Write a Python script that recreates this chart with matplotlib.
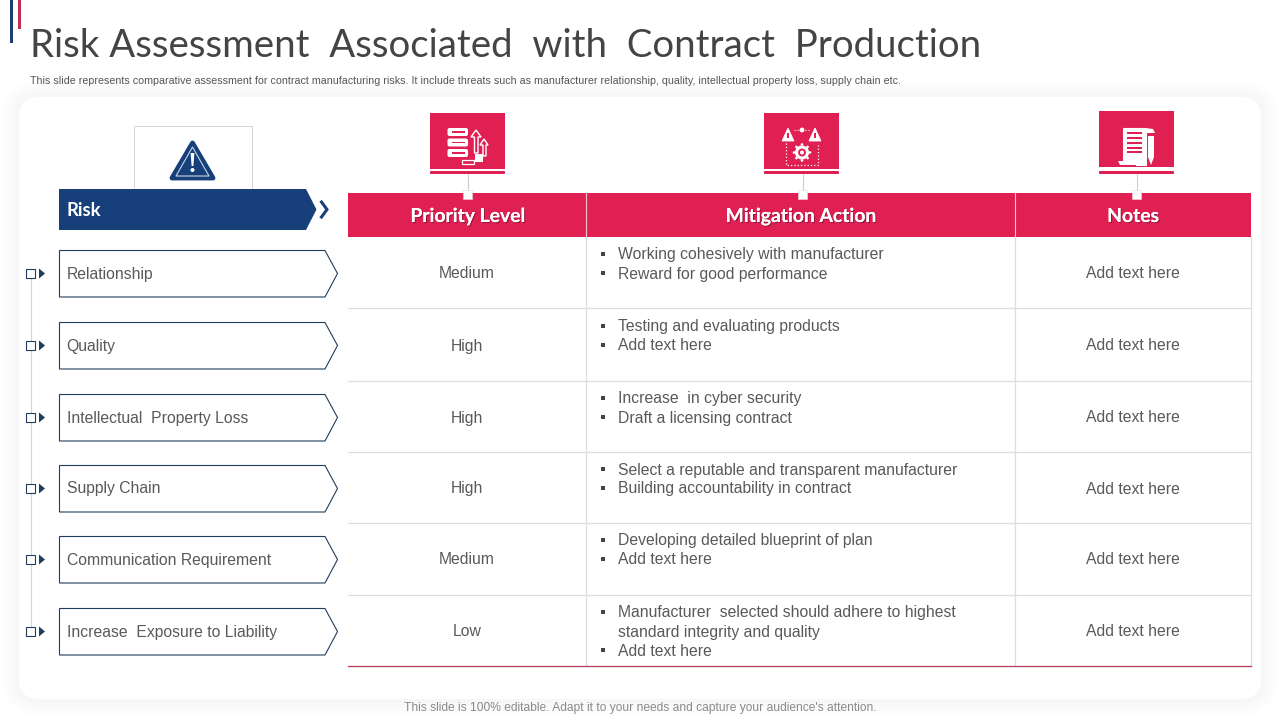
import matplotlib
matplotlib.use("Agg")
import matplotlib.pyplot as plt
import matplotlib.patheffects as pe
from matplotlib.patches import Polygon, Rectangle, FancyBboxPatch, Circle

title = "Risk Assessment  Associated  with  Contract  Production"
subtitle = ("This slide represents comparative assessment for contract manufacturing risks. It include threats such as "
            "manufacturer relationship, quality, intellectual property loss, supply chain etc.")
footer = "This slide is 100% editable. Adapt it to your needs and capture your audience's attention."

risks = ["Relationship", "Quality", "Intellectual  Property Loss", "Supply Chain",
         "Communication Requirement", "Increase  Exposure to Liability"]
priority = ["Medium", "High", "High", "High", "Medium", "Low"]
actions = [
    ["Working cohesively with manufacturer", "Reward for good performance"],
    ["Testing and evaluating products", "Add text here"],
    ["Increase  in cyber security", "Draft a licensing contract"],
    ["Select a reputable and transparent manufacturer", "Building accountability in contract"],
    ["Developing detailed blueprint of plan", "Add text here"],
    ["Manufacturer  selected should adhere to highest", "standard integrity and quality", "Add text here"],
]
# wrapped lines that carry on the bullet above them
continued = ["standard integrity and quality"]
notes = ["Add text here"] * 6
headers = ["Priority Level", "Mitigation Action", "Notes"]

NAVY = "#17407b"
PINK = "#e02052"
GREY_TEXT = "#595959"
LINE = "#dedee2"
BODY = "Liberation Sans"

col_x = [348, 586.5, 1015, 1251]
row_y = [237, 308, 380.5, 451.5, 523, 594.5, 666]
row_mid = [273, 345, 417, 488, 559, 631]


def px(size):
    return size * 0.72


fig = plt.figure(figsize=(12.8, 7.2), dpi=100, facecolor="white")
ax = fig.add_axes([0, 0, 1, 1])
ax.set_xlim(0, 1280)
ax.set_ylim(720, 0)
ax.axis("off")


# y is the text baseline, so glyph shapes do not shift the line
def put(x, y, s, size=15.7, color=GREY_TEXT, ha="left", family=BODY, **kw):
    return ax.text(x, y, s, fontsize=px(size), color=color, ha=ha, va="baseline", family=family, **kw)


# soft panel with a faint shadow around it
for grow, alpha in [(16, 0.2), (12, 0.3), (8, 0.4), (4, 0.5)]:
    ax.add_patch(FancyBboxPatch((19 - grow, 97 - grow), 1242 + 2 * grow, 602 + 2 * grow,
                                boxstyle="round,pad=0,rounding_size=%d" % (20 + grow),
                                fc="#f7f7f7", ec="none", alpha=alpha))
ax.add_patch(FancyBboxPatch((19, 97), 1242, 602, boxstyle="round,pad=0,rounding_size=20", fc="white", ec="none"))

# top corner accents
ax.add_patch(Rectangle((10, 0), 3, 43, fc="#1d3f75", ec="none"))
ax.add_patch(Rectangle((18, 0), 3, 29, fc="#c0304f", ec="none"))

put(30, 57, title, size=38.45, color="#444444", family="Lato")
put(30, 84, subtitle, size=10.6, color="#555555")
put(640, 711.5, footer, size=12, color="#8a8a8a", ha="center")

# risk header and icon
ax.add_patch(Rectangle((134, 126), 118, 63, fc="white", ec="#d4d4d4", lw=0.7))
ax.add_patch(Polygon([(192.5, 143), (213, 178), (172, 178)], closed=True, fc=NAVY, ec=NAVY, lw=3.5, joinstyle="round"))
ax.add_patch(Polygon([(192.5, 147), (209, 176), (176, 176)], closed=True, fc=NAVY, ec="#c9d4e6", lw=0.8, joinstyle="round"))
ax.add_patch(Polygon([(190.6, 153), (194.4, 153), (193.4, 166), (191.6, 166)], closed=True, fc="white", ec="none"))
ax.add_patch(Circle((192.5, 170), 2, fc="white", ec="none"))
ax.add_patch(Polygon([(59, 189), (306, 189), (316.5, 209.5), (306, 230), (59, 230)], closed=True, fc=NAVY, ec="none"))
put(67, 215.5, "Risk", size=18.5, color="white", family="Lato", fontweight="bold")
ax.plot([321.5, 327, 321.5], [202, 209.5, 217], color=NAVY, lw=2.2, solid_joinstyle="miter")

# left column of risks
ax.plot([30.5, 30.5], [row_mid[0], row_mid[-1]], color="#d6d6d6", lw=0.8, zorder=1)
for name, y in zip(risks, row_mid):
    ax.add_patch(Polygon([(59.5, y - 22.5), (325, y - 22.5), (337.5, y + 0.5), (325, y + 24), (59.5, y + 24)],
                         closed=True, fc="white", ec="#1f3d5c", lw=0.8))
    ax.add_patch(Rectangle((26, y - 4.5), 9, 9.5, fc="white", ec="#1f3d5c", lw=0.8, zorder=3))
    ax.add_patch(Polygon([(39, y - 4.5), (45, y + 0.5), (39, y + 5.5)], closed=True, fc="#1f3d5c", ec="none"))
    put(66.7, y + 5.5, name)

# table header
ax.add_patch(Rectangle((col_x[0], 193), col_x[-1] - col_x[0], 44, fc=PINK, ec="none"))
shadow = [pe.withSimplePatchShadow(offset=(0.8, -0.8), shadow_rgbFace="#7a1030", alpha=0.7), pe.Normal()]
header_mid = [467.5, 800.5, 1133]
for name, x in zip(headers, header_mid):
    t = put(x, 222, name, size=19.3, color="white", ha="center", family="Lato", fontweight="bold")
    t.set_path_effects(shadow)
for x in col_x[1:3]:
    ax.plot([x - 0.5, x - 0.5], [193, 237], color="#f4c4d0", lw=0.8)

# table grid
for y in row_y[1:-1]:
    ax.plot([col_x[0], col_x[-1]], [y, y], color=LINE, lw=0.9)
for x in col_x[1:]:
    ax.plot([x - 0.5, x - 0.5], [row_y[0], row_y[-1]], color=LINE, lw=0.9)
ax.plot([col_x[0], col_x[-1]], [row_y[-1], row_y[-1]], color="#b83a5a", lw=0.9)

# table cells
for i, y in enumerate(row_mid):
    put(467, y + 5.5, priority[i], ha="center")
    put(1133, y + 5.5, notes[i], ha="center")
    for j, line in enumerate(actions[i]):
        ly = y - 19 + j * 19
        if line not in continued:
            ax.add_patch(Rectangle((600.5, ly - 2), 4, 4, fc="#444444", ec="none"))
        put(618, ly + 5.5, line)

# pink icon tiles above the columns
tile_x = [430, 764, 1099]
tile_y = [113, 113, 111]
stem_x = [467.5, 802.5, 1136.5]
for x, y, sx in zip(tile_x, tile_y, stem_x):
    ax.add_patch(Rectangle((x, y), 75, 56, fc=PINK, ec="none"))
    ax.add_patch(FancyBboxPatch((x, 171), 75, 3, boxstyle="round,pad=0,rounding_size=1", fc=PINK, ec="none"))
    ax.plot([sx, sx], [174, 190], color="#cccccc", lw=0.8)
    ax.add_patch(Rectangle((sx - 5, 189.5), 9.5, 9.5, fc="white", ec="#f0d8df", lw=0.4, zorder=4))

# icon 1: stacked bars with arrows
for y in [128, 138.5, 149]:
    ax.add_patch(FancyBboxPatch((447.5, y), 20.5, 8, boxstyle="round,pad=0,rounding_size=2", fc="white", ec="none"))
    ax.add_patch(Rectangle((452, y + 3), 13, 1.7, fc=PINK, ec="none"))
ax.add_patch(Polygon([(476, 130), (481, 137), (478, 137), (478, 153), (474.5, 153), (474.5, 137), (471, 137)],
                     closed=True, fc=PINK, ec="white", lw=1))
ax.add_patch(Polygon([(484, 139), (488, 145), (486, 145), (486, 156), (483, 156), (483, 145), (480, 145)],
                     closed=True, fc=PINK, ec="white", lw=1))
ax.add_patch(Rectangle((475, 154), 7.5, 8, fc="white", ec="none"))
ax.add_patch(Rectangle((462, 159.5), 12, 4, fc=PINK, ec="white", lw=0.9))

# icon 2: warning triangles and gear
for cx in [788, 815]:
    ax.add_patch(Polygon([(cx, 128), (cx + 6, 141), (cx - 6, 141)], closed=True, fc="white", ec="white", lw=0.6))
    ax.add_patch(Rectangle((cx - 0.7, 133), 1.4, 5, fc=PINK, ec="none"))
ax.add_patch(Circle((802, 130), 2.4, fc="white", ec="none"))
ax.plot([794, 799], [130, 130], color="white", lw=0.8, ls=":")
ax.plot([805, 810], [130, 130], color="white", lw=0.8, ls=":")
ax.plot([786, 786, 818, 818], [143, 165, 165, 143], color="white", lw=0.9, ls=":")
ax.add_patch(Circle((802, 152.5), 5.5, fc=PINK, ec="white", lw=2.2))
ax.add_patch(Circle((802, 152.5), 2, fc="white", ec="none"))
for dx, dy in [(0, -8), (0, 8), (-8, 0), (8, 0), (-5.6, -5.6), (5.6, -5.6), (-5.6, 5.6), (5.6, 5.6)]:
    ax.add_patch(Circle((802 + dx, 152.5 + dy), 1.3, fc="white", ec="none"))

# icon 3: scroll and pen
ax.add_patch(Polygon([(1123, 128), (1146, 128), (1146, 165), (1136, 165), (1136, 162), (1123, 162)],
                     closed=True, fc="white", ec="white", lw=0.8, joinstyle="round"))
ax.add_patch(Polygon([(1118, 161), (1136, 161), (1137, 165), (1120, 165)], closed=True, fc="white", ec="none"))
for y in [132, 137, 142, 147, 151]:
    ax.add_patch(Rectangle((1127, y), 15, 1.5, fc=PINK, ec="none"))
ax.add_patch(Polygon([(1146, 128), (1153, 129), (1155, 133), (1147, 133)], closed=True, fc="white", ec="none"))
ax.add_patch(Polygon([(1148, 136), (1154, 136), (1154, 157), (1151, 165), (1148, 157)], closed=True, fc="white", ec="none"))

fig.savefig("out.png", dpi=100, facecolor="white")
